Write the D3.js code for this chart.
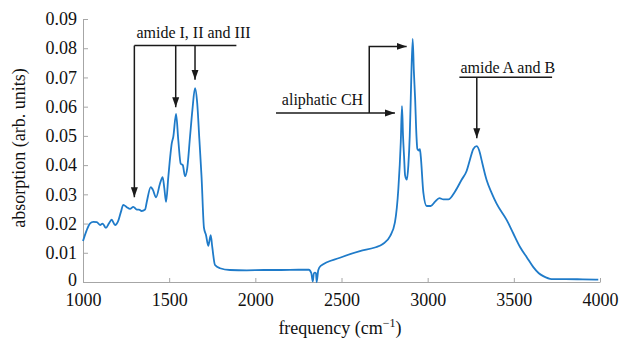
<!DOCTYPE html>
<html>
<head>
<meta charset="utf-8">
<script src="https://cdn.jsdelivr.net/npm/d3@7"></script>
<style>
  body { margin: 0; background: #fff; }
  svg { font-family: "Liberation Serif", "Times New Roman", serif; }
</style>
</head>
<body>
<svg id="chart" width="622" height="342"></svg>
<script>
// spectrum
var freq = [1000,1020,1040,1060,1080,1099,1114,1133,1150,1166,1186,1205,1220,1234,1254,1273,1292,1312,1325,1340,1360,1370,1393,1405,1424,1447,1462,1472,1482,1495,1508,1515,1524,1540,1553,1567,1579,1592,1605,1621,1635,1650,1663,1675,1688,1702,1714,1727,1741,1750,1766,1795,1853,1950,2050,2150,2250,2310,2325,2333,2340,2346,2352,2356,2365,2379,2491,2607,2694,2740,2782,2810,2830,2844,2851,2857,2863,2869,2879,2888,2896,2902,2913,2920,2927,2935,2940,2950,2955,2960,2975,2994,3018,3043,3068,3091,3120,3159,3197,3226,3246,3265,3285,3304,3313,3342,3371,3400,3459,3497,3536,3575,3613,3645,3671,3719,3800,3900,3990]
var absorb = [0.0140,0.0175,0.0200,0.0206,0.0205,0.0195,0.0200,0.0185,0.0200,0.0213,0.0195,0.0210,0.0240,0.0264,0.0256,0.0250,0.0257,0.0248,0.0248,0.0243,0.0248,0.0274,0.0325,0.0316,0.0290,0.0337,0.0359,0.0320,0.0274,0.0359,0.0440,0.0474,0.0497,0.0575,0.0485,0.0405,0.0400,0.0362,0.0390,0.0497,0.0590,0.0663,0.0610,0.0490,0.0359,0.0185,0.0160,0.0124,0.0160,0.0120,0.0058,0.0047,0.0041,0.0040,0.0041,0.0041,0.0042,0.0042,0.0030,0.0002,0.0030,0.0032,0.0030,0.0000,0.0040,0.0055,0.0083,0.0106,0.0118,0.0130,0.0157,0.0204,0.0320,0.0480,0.0602,0.0500,0.0430,0.0365,0.0350,0.0400,0.0500,0.0630,0.0832,0.0720,0.0630,0.0500,0.0456,0.0450,0.0455,0.0430,0.0306,0.0260,0.0260,0.0275,0.0287,0.0283,0.0283,0.0310,0.0350,0.0380,0.0420,0.0455,0.0465,0.0440,0.0417,0.0349,0.0305,0.0268,0.0212,0.0166,0.0120,0.0085,0.0051,0.0030,0.0020,0.0010,0.0010,0.0009,0.0008]

var xTicks = [1000,1500,2000,2500,3000,3500,4000]
var yTicks = [0,0.01,0.02,0.03,0.04,0.05,0.06,0.07,0.08,0.09]

var dimensions = {
    width: 622,
    height: 342,
    margin: { top: 19, bottom: 60, right: 22, left: 83 }
}

var svg = d3.select("#chart")

var xScale = d3.scaleLinear()
               .domain([1000, 4000])
               .range([dimensions.margin.left, dimensions.width - dimensions.margin.right])

var yScale = d3.scaleLinear()
               .domain([0, 0.09])
               .range([dimensions.height - dimensions.margin.bottom, dimensions.margin.top])

// arrow head
svg.append("defs").append("marker")
   .attr("id", "arrow")
   .attr("markerUnits", "userSpaceOnUse")
   .attr("viewBox", "0 -4 10 8")
   .attr("refX", 10).attr("refY", 0)
   .attr("markerWidth", 10).attr("markerHeight", 8)
   .attr("orient", "auto")
   .append("path")
   .attr("d", "M0,-3.5L10,0L0,3.5Z")
   .attr("fill", "#1a1a1a")

var xAxisGen = d3.axisBottom(xScale).tickValues(xTicks).tickSizeInner(-4).tickSizeOuter(0).tickPadding(11).tickFormat(d3.format("d"))
var xAxis = svg.append("g")
               .attr("transform", `translate(0,${yScale(0)})`)
               .call(xAxisGen)

var yAxisGen = d3.axisLeft(yScale).tickValues(yTicks).tickSizeInner(-5).tickSizeOuter(0).tickPadding(6).tickFormat(d => d === 0 ? "0" : d3.format(".2f")(d))
var yAxis = svg.append("g")
               .attr("transform", `translate(${xScale(1000)},0)`)
               .call(yAxisGen)

svg.selectAll(".domain, .tick line").attr("stroke", "#a6a6a6")
svg.selectAll(".tick text")
   .attr("font-family", "Liberation Serif, serif")
   .attr("font-size", 18)
   .attr("fill", "#111")

// lift the "0" label a touch so it clears "1000"
yAxis.selectAll(".tick text").filter(d => d === 0).attr("dy", "0.18em")

var line = d3.line()
             .x(d => xScale(d[0]))
             .y(d => yScale(d[1]))
             .curve(d3.curveMonotoneX)

svg.append("path")
   .datum(d3.zip(freq, absorb))
   .attr("d", line)
   .attr("fill", "none")
   .attr("stroke", "#1f7bc9")
   .attr("stroke-width", 1.8)

// axis titles
svg.append("text")
   .attr("x", 340).attr("y", 334)
   .attr("text-anchor", "middle")
   .attr("font-size", 18)
   .attr("fill", "#111")
   .text("frequency (cm")
   .append("tspan").attr("font-size", 12).attr("dy", -7).text("−1")
   .select(function() { return this.parentNode })
   .append("tspan").attr("dy", 7).text(")")

svg.append("text")
   .attr("transform", "translate(25,148) rotate(-90)")
   .attr("text-anchor", "middle")
   .attr("font-size", 18)
   .attr("fill", "#111")
   .text("absorption (arb. units)")

// annotations
var ann = svg.append("g")
             .attr("stroke", "#1a1a1a")
             .attr("stroke-width", 1.5)
             .attr("fill", "none")

// amide I, II and III
var amideBar = 0.0809
ann.append("line").attr("x1", xScale(1298)).attr("x2", xScale(1890)).attr("y1", yScale(amideBar)).attr("y2", yScale(amideBar))
var amideTips = [[1298, 0.0290], [1538, 0.0598], [1650, 0.0692]]
amideTips.forEach(function(t) {
    ann.append("line")
       .attr("x1", xScale(t[0])).attr("x2", xScale(t[0]))
       .attr("y1", yScale(amideBar)).attr("y2", yScale(t[1]))
       .attr("marker-end", "url(#arrow)")
})
svg.append("text").attr("x", xScale(1310)).attr("y", 38)
   .attr("font-size", 16).attr("fill", "#111").text("amide I, II and III")

// aliphatic CH
ann.append("line").attr("x1", xScale(2120)).attr("x2", xScale(2810)).attr("y1", yScale(0.0578)).attr("y2", yScale(0.0578))
   .attr("marker-end", "url(#arrow)")
ann.append("polyline")
   .attr("points", [[xScale(2661), yScale(0.0578)], [xScale(2661), yScale(0.0806)], [xScale(2878), yScale(0.0806)]].join(" "))
   .attr("marker-end", "url(#arrow)")
svg.append("text").attr("x", xScale(2154)).attr("y", 105)
   .attr("font-size", 16).attr("fill", "#111").text("aliphatic CH")

// amide A and B
ann.append("line").attr("x1", xScale(3184)).attr("x2", xScale(3722)).attr("y1", yScale(0.0701)).attr("y2", yScale(0.0701))
ann.append("line").attr("x1", xScale(3285)).attr("x2", xScale(3285)).attr("y1", yScale(0.0701)).attr("y2", yScale(0.0492))
   .attr("marker-end", "url(#arrow)")
svg.append("text").attr("x", xScale(3190)).attr("y", 73)
   .attr("font-size", 16).attr("fill", "#111").text("amide A and B")
</script>
</body>
</html>
